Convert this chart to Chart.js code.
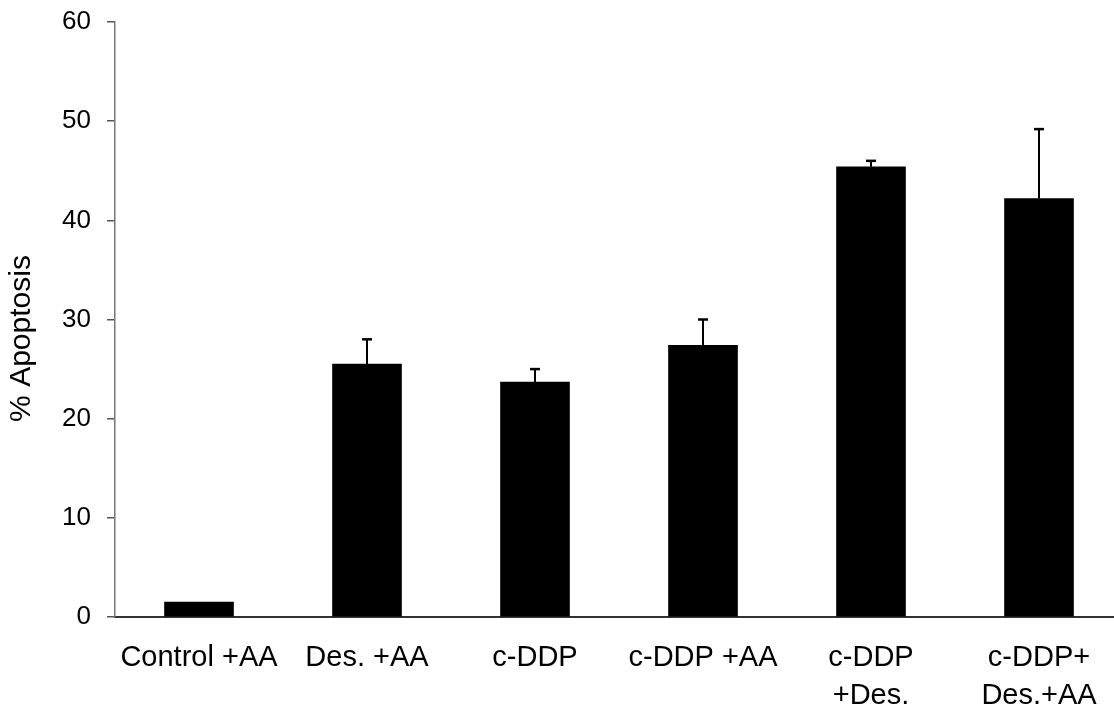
<!DOCTYPE html>
<html>
<head>
<meta charset="utf-8">
<script src="https://cdn.jsdelivr.net/npm/chart.js@4"></script>
<style>
  html, body { margin: 0; padding: 0; background: #fff; overflow: hidden; }
  #wrap { width: 1123px; height: 708px; position: relative; }
</style>
</head>
<body>
<div id="wrap"><canvas id="c"></canvas></div>
<script>
const categories = ['Control +AA', 'Des. +AA', 'c-DDP', 'c-DDP +AA', ['c-DDP', '+Des.'], ['c-DDP+', 'Des.+AA']];
const apoptosis = [1.5, 25.5, 23.7, 27.4, 45.4, 42.2];
const errorUp = [0, 2.5, 1.3, 2.6, 0.6, 7.0];
const yTicks = [0, 10, 20, 30, 40, 50, 60];
const yTitle = '% Apoptosis';

const FONT = '"Liberation Sans", Arial, Helvetica, sans-serif';

const errorBarPlugin = {
  id: 'errorBars',
  afterDatasetsDraw(chart) {
    const meta = chart.getDatasetMeta(0);
    const yScale = chart.scales.y;
    const ctx = chart.ctx;
    ctx.save();
    ctx.strokeStyle = '#000';
    meta.data.forEach((bar, i) => {
      const e = errorUp[i];
      if (!e) return;
      const x = bar.x;
      const yTop = yScale.getPixelForValue(apoptosis[i] + e);
      const yBase = yScale.getPixelForValue(apoptosis[i]);
      ctx.lineWidth = 2;
      ctx.beginPath();
      ctx.moveTo(x, yBase);
      ctx.lineTo(x, yTop);
      ctx.stroke();
      ctx.lineWidth = 2.5;
      ctx.beginPath();
      ctx.moveTo(x - 5, yTop);
      ctx.lineTo(x + 5, yTop);
      ctx.stroke();
    });
    ctx.restore();
  }
};

const yTitlePlugin = {
  id: 'yTitle',
  afterDraw(chart) {
    const ctx = chart.ctx;
    const a = chart.chartArea;
    ctx.save();
    ctx.translate(22, (a.top + a.bottom) / 2 + 19);
    ctx.rotate(-Math.PI / 2);
    ctx.fillStyle = '#000';
    ctx.font = '30px ' + FONT;
    ctx.textAlign = 'center';
    ctx.textBaseline = 'middle';
    ctx.fillText(yTitle, 0, 0);
    ctx.restore();
  }
};

new Chart(document.getElementById('c'), {
  type: 'bar',
  data: {
    labels: categories,
    datasets: [{
      data: apoptosis,
      backgroundColor: '#000',
      borderWidth: 0,
      barThickness: 69
    }]
  },
  options: {
    responsive: true,
    maintainAspectRatio: false,
    animation: false,
    layout: { padding: { top: 22, left: 0, right: 0, bottom: 0 } },
    plugins: { legend: { display: false }, tooltip: { enabled: false } },
    scales: {
      x: {
        grid: { display: false, drawTicks: false },
        border: { display: true, color: '#333', width: 2 },
        ticks: {
          color: '#000',
          font: { family: FONT, size: 29, lineHeight: 1.3 },
          padding: 22,
          maxRotation: 0,
          autoSkip: false
        },
        afterFit(scale) { scale.height = 91; scale.paddingLeft = 0; scale.paddingRight = 0; }
      },
      y: {
        min: 0,
        max: 60,
        afterBuildTicks(scale) { scale.ticks = yTicks.map(v => ({ value: v })); },
        grid: { display: true, drawOnChartArea: false, drawTicks: true, tickLength: 8, color: '#555', lineWidth: 1.5 },
        border: { display: true, color: '#777', width: 1.5 },
        ticks: {
          color: '#000',
          font: { family: FONT, size: 26 },
          padding: 16
        },
        title: { display: false },
        afterFit(scale) { scale.width = 115; scale.paddingTop = 0; scale.paddingBottom = 0; }
      }
    }
  },
  plugins: [errorBarPlugin, yTitlePlugin]
});
</script>
</body>
</html>
